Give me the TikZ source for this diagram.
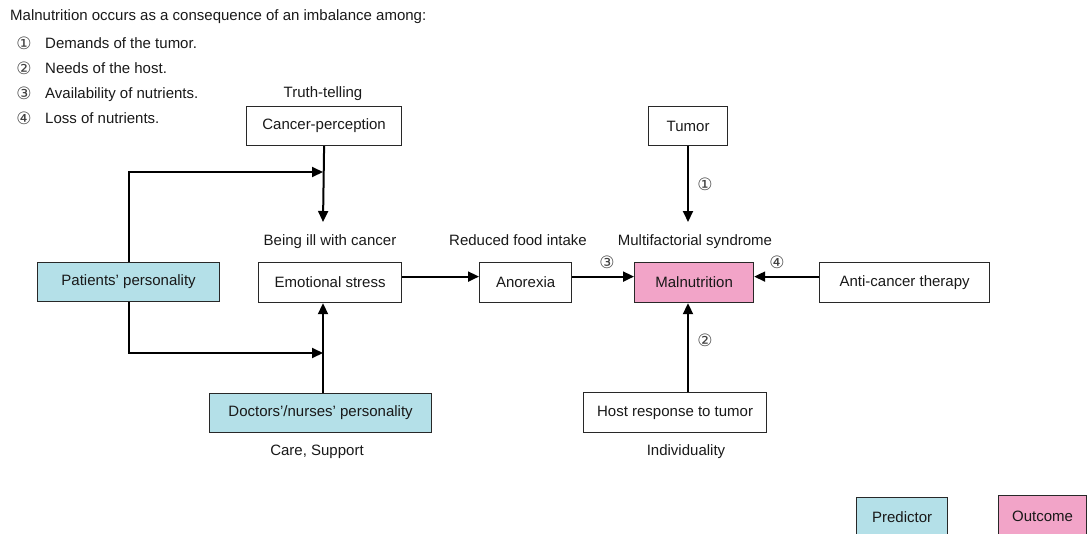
\documentclass[tikz,border=0pt]{standalone}
\usepackage{fontspec}
\setmainfont{Liberation Sans}
\newfontfamily\symf{DejaVu Sans}
\usetikzlibrary{arrows.meta}
\definecolor{predictor}{RGB}{180,224,232}
\definecolor{outcome}{RGB}{242,164,200}
\definecolor{boxline}{RGB}{40,40,40}
\begin{document}
\begin{tikzpicture}[x=1pt,y=-1pt,
  every node/.style={font=\fontsize{15}{18}\selectfont, text=black!90},
  box/.style={draw=boxline, line width=1.2pt, inner sep=0pt, minimum height=40pt, anchor=north west},
  lbl/.style={anchor=base, inner sep=0pt},
  num/.style={inner sep=0pt, font=\symf\fontsize{17}{19}\selectfont, text=black!75},
  arr/.style={line width=2pt, -{Triangle[length=11pt,width=10pt]}}]
\useasboundingbox (0,0) rectangle (1087,533);
\clip (0,0) rectangle (1087,533);

% header text
\node[lbl, anchor=base west] (title) at (10,20) {Malnutrition occurs as a consequence of an imbalance among:};
\node[num] (n1) at (24,43) {①};
\node[lbl, anchor=base west] (t1) at (45,48) {Demands of the tumor.};
\node[num] (n2) at (24,68) {②};
\node[lbl, anchor=base west] (t2) at (45,73) {Needs of the host.};
\node[num] (n3) at (24,93) {③};
\node[lbl, anchor=base west] (t3) at (45,98) {Availability of nutrients.};
\node[num] (n4) at (24,118) {④};
\node[lbl, anchor=base west] (t4) at (45,123) {Loss of nutrients.};

% boxes
\node[box, minimum width=155pt, minimum height=39pt] (cp) at (246,106) {Cancer-perception};
\node[box, minimum width=79pt, minimum height=39pt] (tu) at (648,106) {Tumor};
\node[box, minimum width=182pt, minimum height=39pt, fill=predictor] (pp) at (37,262) {Patients' personality};
\node[box, minimum width=143pt] (es) at (258,262) {Emotional stress};
\node[box, minimum width=92pt] (an) at (479,262) {Anorexia};
\node[box, minimum width=119pt, fill=outcome] (mal) at (634,262) {Malnutrition};
\node[box, minimum width=170pt] (act) at (819,262) {Anti-cancer therapy};
\node[box, minimum width=222pt, minimum height=39pt, fill=predictor] (dn) at (209,393) {Doctors'/nurses' personality};
\node[box, minimum width=183pt] (hr) at (583,392) {Host response to tumor};
\node[box, minimum width=91pt, fill=predictor] (pred) at (856,497) {Predictor};
\node[box, minimum width=88pt, minimum height=42pt, fill=outcome] (out) at (998,495) {Outcome};

% labels
\node[lbl] (truth) at (323,97) {Truth-telling};
\node[lbl] (ill) at (330,245) {Being ill with cancer};
\node[lbl] (rfi) at (518,245) {Reduced food intake};
\node[lbl] (mfs) at (695,245) {Multifactorial syndrome};
\node[lbl] (care) at (317,455) {Care, Support};
\node[lbl] (indiv) at (686,455) {Individuality};
\node[num] (c1) at (705,184) {①};
\node[num] (c2) at (705,340) {②};
\node[num] (c3) at (607,262) {③};
\node[num] (c4) at (777,262) {④};

% connectors
\coordinate (cpEnd) at (323,222);
\coordinate (tuEnd) at (688,222);
\coordinate (j1) at (323,172);
\coordinate (j2) at (323,353);
\draw[arr] (cp.south) -- (cpEnd);
\draw[arr] (tu.south -| tuEnd) -- (tuEnd);
\draw[arr] (pp.north) |- (j1);
\draw[arr] (pp.south) |- (j2);
\draw[arr] (dn.north -| j2) -- (es.south -| j2);
\draw[arr] ([yshift=6pt]es.east) -- ([yshift=6pt]an.west);
\draw[arr] ([yshift=6pt]an.east) -- ([yshift=6pt]mal.west);
\draw[arr] ([yshift=6pt]act.west) -- ([yshift=6pt]mal.east);
\draw[arr] (hr.north -| tuEnd) -- (mal.south -| tuEnd);
\end{tikzpicture}
\end{document}
